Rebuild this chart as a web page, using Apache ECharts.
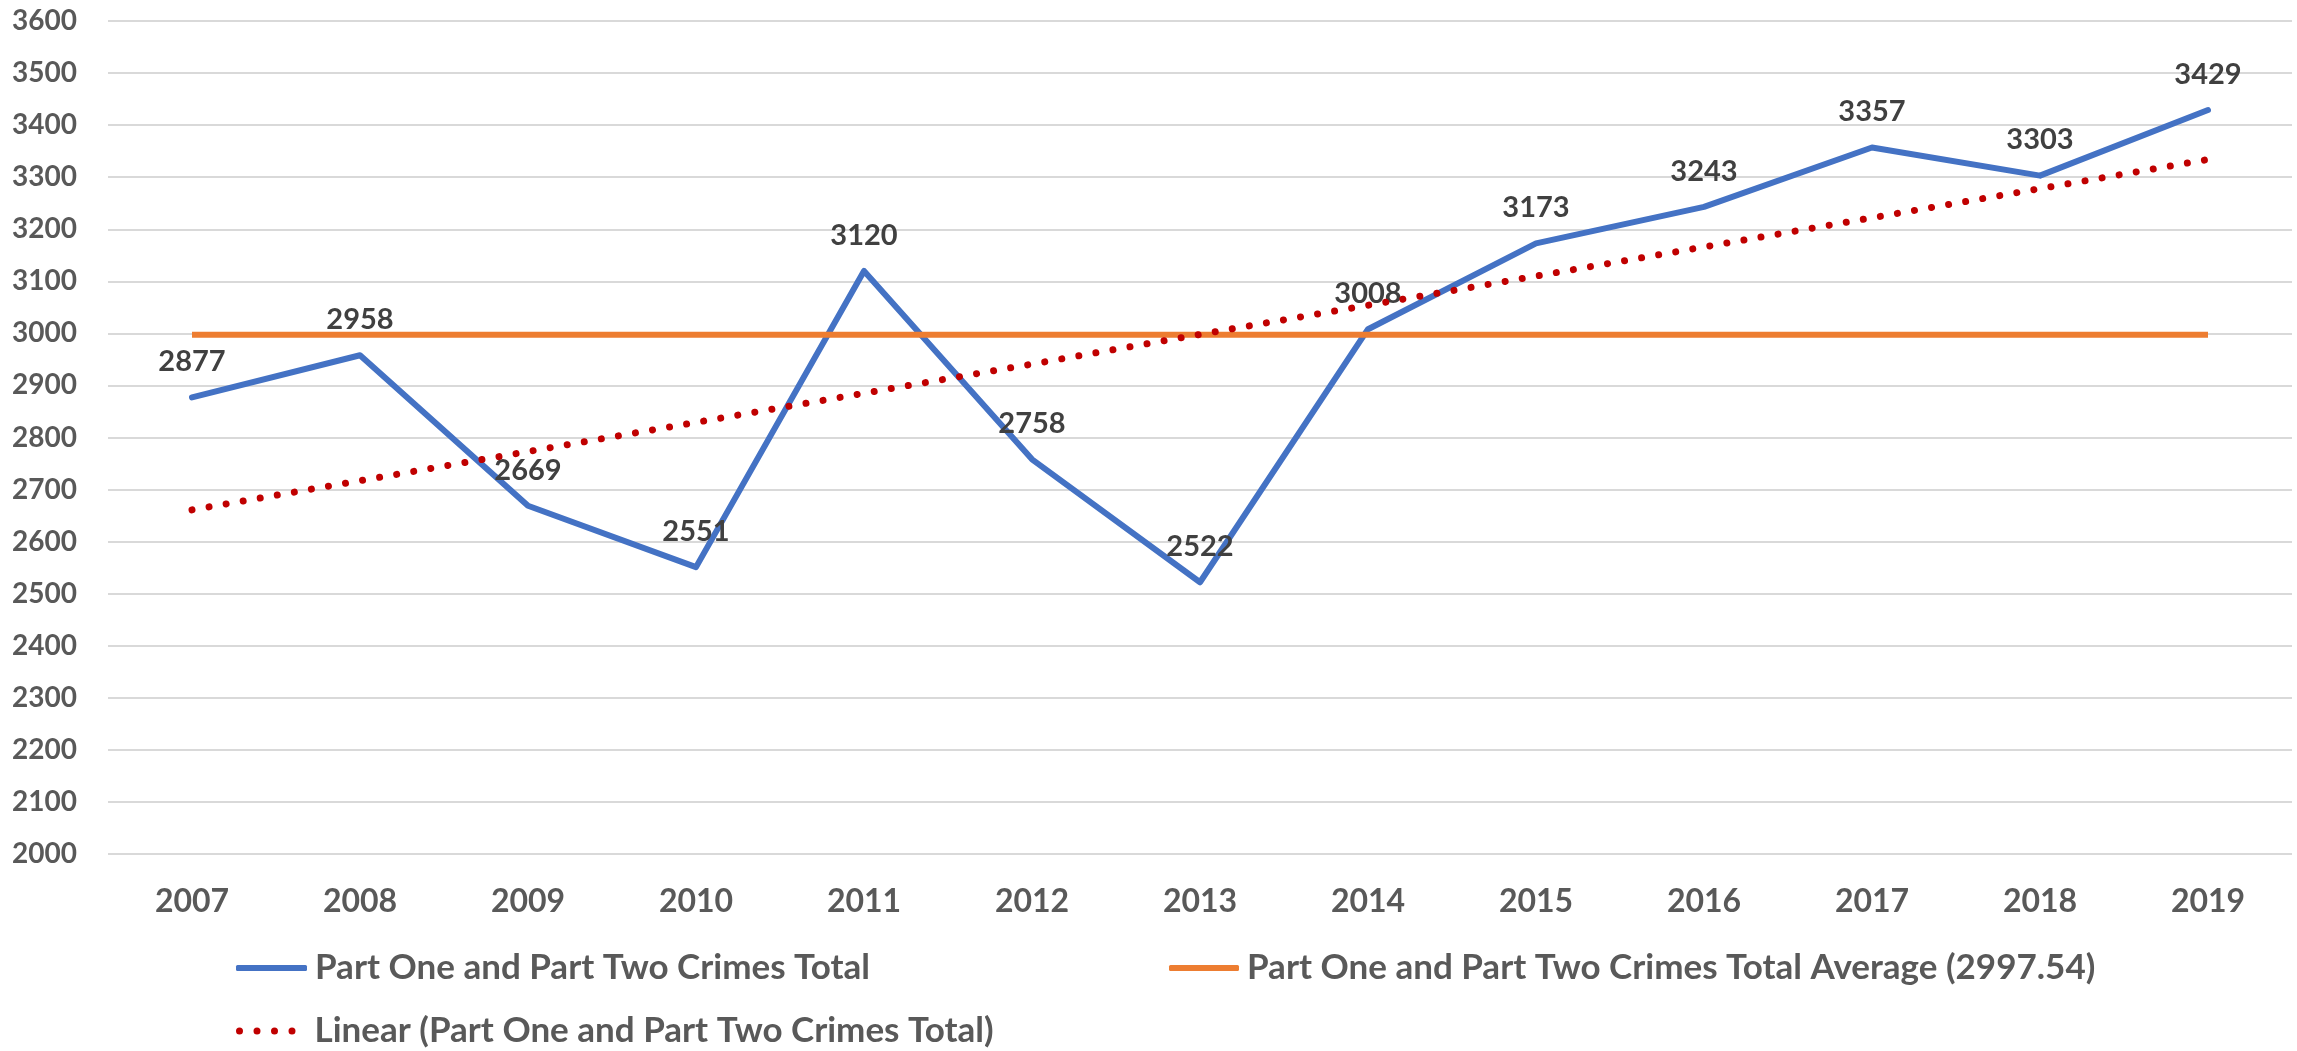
<!DOCTYPE html>
<html>
<head>
<meta charset="utf-8">
<script src="https://cdn.jsdelivr.net/npm/echarts@6/dist/echarts.min.js"></script>
<style>
  html, body { margin: 0; padding: 0; background: #fff; }
  #chart { width: 2297px; height: 1051px; }
</style>
</head>
<body>
<div id="chart"></div>
<script>
// years on the x axis
var years = ['2007', '2008', '2009', '2010', '2011', '2012', '2013', '2014', '2015', '2016', '2017', '2018', '2019'];
// Part One and Part Two Crimes Total
var crimesTotal = [2877, 2958, 2669, 2551, 3120, 2758, 2522, 3008, 3173, 3243, 3357, 3303, 3429];
// average line (value from legend)
var averageLine = [2997.54, 2997.54, 2997.54, 2997.54, 2997.54, 2997.54, 2997.54, 2997.54, 2997.54, 2997.54, 2997.54, 2997.54, 2997.54];
// linear trend
var linearTrend = [2661, 2717, 2773, 2829, 2885, 2941, 2998, 3054, 3110, 3166, 3222, 3278, 3334];

var nameTotal = 'Part One and Part Two Crimes Total';
var nameAvg = 'Part One and Part Two Crimes Total Average (2997.54)';
var nameLinear = 'Linear (Part One and Part Two Crimes Total)';

var font = 'Lato';
var axisColor = '#595959';

// four round dots for the trend line legend
var dotsIcon = 'path://M0,3.5a3.5,3.5 0 1,0 7,0a3.5,3.5 0 1,0 -7,0' +
    'M17.5,3.5a3.5,3.5 0 1,0 7,0a3.5,3.5 0 1,0 -7,0' +
    'M35,3.5a3.5,3.5 0 1,0 7,0a3.5,3.5 0 1,0 -7,0' +
    'M52.5,3.5a3.5,3.5 0 1,0 7,0a3.5,3.5 0 1,0 -7,0';

var chart = echarts.init(document.getElementById('chart'));

function legendAt(name, left, top, icon, w, h, textPad) {
    return {
        data: [{ name: name, icon: icon }],
        left: left,
        top: top,
        padding: 0,
        itemWidth: w,
        itemHeight: h,
        selectedMode: false,
        textStyle: {
            fontFamily: font,
            fontSize: 35,
            fontWeight: 'bold',
            color: axisColor,
            lineHeight: 36,
            padding: [0, 0, 0, textPad]
        }
    };
}

var option = {
    animation: false,
    grid: {
        left: 108,
        right: 5,
        top: 21,
        bottom: 197
    },
    legend: [
        legendAt(nameTotal, 236, 950, 'roundRect', 71, 6, 3),
        legendAt(nameAvg, 1169, 950, 'roundRect', 70, 6, 3),
        legendAt(nameLinear, 236, 1013, dotsIcon, 59.5, 7, 14)
    ],
    xAxis: {
        type: 'category',
        data: years,
        boundaryGap: true,
        axisLine: { show: false },
        axisTick: { show: false },
        axisLabel: {
            margin: 32,
            fontFamily: font,
            fontSize: 32,
            fontWeight: 'bold',
            color: axisColor
        }
    },
    yAxis: {
        type: 'value',
        min: 2000,
        max: 3600,
        interval: 100,
        axisLine: { show: false },
        axisTick: { show: false },
        splitLine: {
            lineStyle: { color: '#D9D9D9', width: 2 }
        },
        axisLabel: {
            margin: 31,
            fontFamily: font,
            fontSize: 28,
            fontWeight: 'bold',
            color: axisColor,
            formatter: function (v) { return String(v); }
        }
    },
    series: [
        {
            name: nameTotal,
            type: 'line',
            data: crimesTotal,
            symbol: 'circle',
            symbolSize: 0.1,
            showSymbol: true,
            lineStyle: { color: '#4472C4', width: 6, cap: 'round', join: 'round' },
            itemStyle: { color: '#4472C4' },
            label: {
                show: true,
                position: 'top',
                distance: 21,
                fontFamily: font,
                fontSize: 29,
                fontWeight: 'bold',
                color: '#404040'
            },
            z: 2
        },
        {
            name: nameAvg,
            type: 'line',
            data: averageLine,
            symbol: 'none',
            lineStyle: { color: '#ED7D31', width: 6 },
            itemStyle: { color: '#ED7D31' },
            z: 3
        },
        {
            name: nameLinear,
            type: 'line',
            data: linearTrend,
            symbol: 'none',
            lineStyle: { color: '#C00000', width: 7, type: [0.01, 17.3], cap: 'round' },
            itemStyle: { color: '#C00000' },
            z: 4
        }
    ]
};

chart.setOption(option);
window.addEventListener('resize', function () {
    chart.resize();
});
</script>
</body>
</html>
